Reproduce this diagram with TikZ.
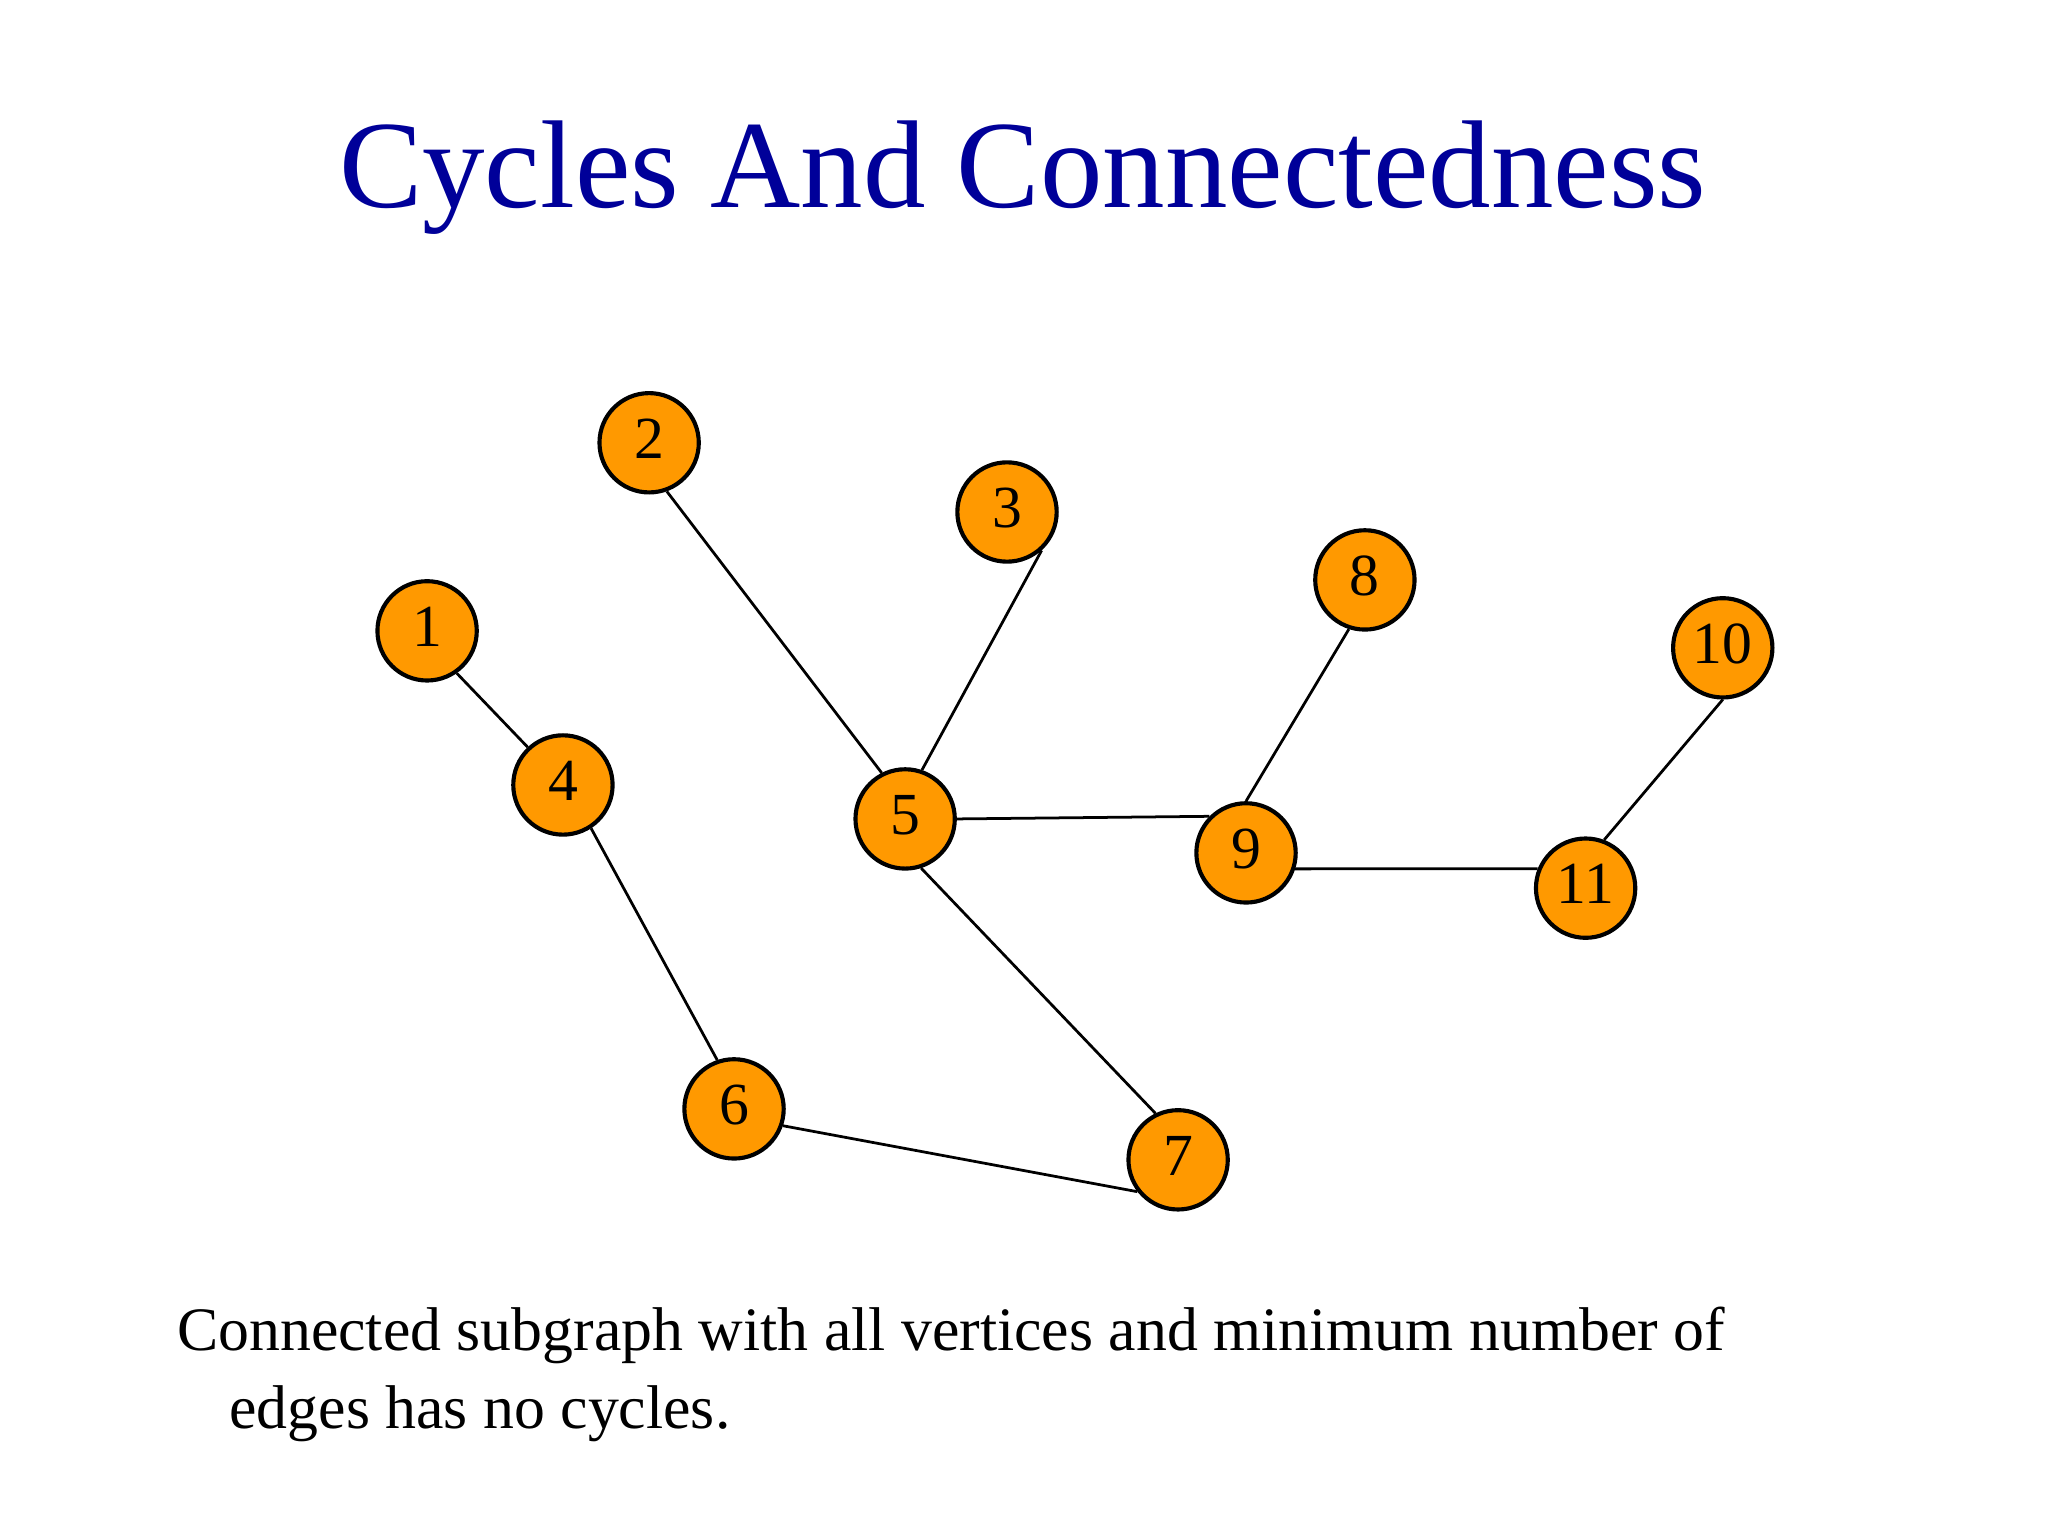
\documentclass[tikz,border=0pt]{standalone}
\usepackage{fontspec}
\setmainfont{Liberation Serif}
\definecolor{ttl}{RGB}{0,0,153}
\definecolor{vorange}{RGB}{255,153,0}
\begin{document}
\begin{tikzpicture}[x=0.01cm,y=-0.01cm,
  vert/.style={circle,draw=black,line width=0.9pt,fill=vorange,minimum size=0.76cm,inner sep=0pt,font=\fontsize{13pt}{15pt}\selectfont},
  edge/.style={line width=0.6pt}]
\useasboundingbox (0,0) rectangle (1568,1176);
\node[text=ttl,font=\fontsize{27.2pt}{32pt}\selectfont] (title) at (783,136) {Cycles And Connectedness};
\foreach \n/\x/\y in {1/327/483,2/497/339,3/771/392,4/431/601,5/693/627,6/562/849,7/902/888,8/1045/444,9/954/653,10/1319/496,11/1214/680}
  \node[vert] (n\n) at (\x,\y) {\smash{\raisebox{-0.12cm}{\n}}};
\draw[edge] (n1.-55) -- (n4.133);
\draw[edge] (n2.-70) -- (n5.117);
\draw[edge] (n3.-48) -- (n5.71);
\draw[edge] (n4.-57) -- (n6.109);
\draw[edge] (n5.-72) -- (n7.116);
\draw[edge] (n6.-19) -- (n7.218);
\draw[edge] (n5.east) -- (n9.135);
\draw[edge] (n8.-108) -- (n9.90);
\draw[edge] (n9.-18) -- (n11.158);
\draw[edge] (n10.-90) -- (n11.69);
\node[anchor=north west,align=left,font=\fontsize{13.45pt}{17pt}\selectfont,inner sep=0pt] (txt) at (135,1000)
 {Connected subgraph with all vertices and minimum number of\\\hspace*{0.4cm}edges has no cycles.};
\end{tikzpicture}
\end{document}
